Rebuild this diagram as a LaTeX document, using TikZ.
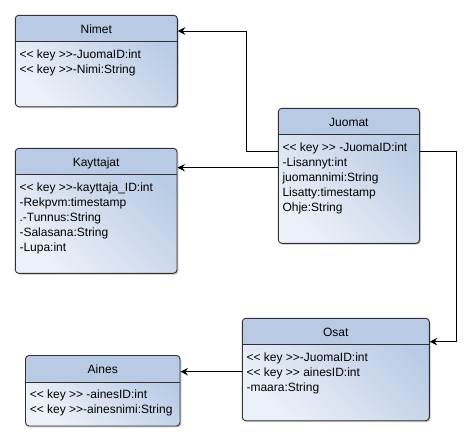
\documentclass[tikz,border=0pt]{standalone}
\usepackage{fontspec}
\setmainfont{Liberation Sans}[Ligatures=TeXOff]
\usetikzlibrary{arrows.meta,shadows,calc}
\definecolor{hdr}{RGB}{184,202,228}
\definecolor{lite}{RGB}{236,241,249}
\definecolor{edge}{RGB}{50,50,50}
\tikzset{
  umlbox/.style={draw=edge, line width=0.9pt, rounded corners=3.5pt, inner sep=0pt,
    top color=hdr, bottom color=lite, shading angle=-45,
    drop shadow={shadow xshift=1.3pt, shadow yshift=-1.3pt, opacity=0.35, fill=black!70},
    path picture={
      \fill[hdr] (path picture bounding box.north west) rectangle ([yshift=-26.5pt]path picture bounding box.north east);
      \draw[edge, line width=0.9pt] ([yshift=-26.5pt]path picture bounding box.north west) -- ([yshift=-26.5pt]path picture bounding box.north east);
    }},
  ttl/.style={anchor=base, font=\fontsize{12}{14}\selectfont, inner sep=0pt},
  att/.style={anchor=base west, font=\fontsize{12}{14}\selectfont, inner sep=0pt},
  arr/.style={draw=black, line width=0.9pt, -{Stealth[length=7.5pt,width=7.5pt,inset=2.5pt]}},
}
\begin{document}
\begin{tikzpicture}[x=1pt,y=-1pt]
\useasboundingbox (0,0) rectangle (471,442);
% boxes
\node[umlbox, minimum width=162pt, minimum height=91.4pt] (nimet) at (96.3,61) {};
\node[umlbox, minimum width=161.7pt, minimum height=125pt] (kayttajat) at (96.15,210.8) {};
\node[umlbox, minimum width=141.2pt, minimum height=135pt] (juomat) at (348.9,175.8) {};
\node[umlbox, minimum width=187pt, minimum height=102.4pt] (osat) at (335.8,369.5) {};
\node[umlbox, minimum width=154.5pt, minimum height=70.5pt] (aines) at (102.75,390.75) {};
% titles
\node[ttl] (nimetT) at ($(nimet.north)+(0,18.5)$) {Nimet};
\node[ttl] (kayttajatT) at ($(kayttajat.north)+(0,18.5)$) {Kayttajat};
\node[ttl] (juomatT) at ($(juomat.north)+(0,18.5)$) {Juomat};
\node[ttl] (osatT) at ($(osat.north)+(0,18.5)$) {Osat};
\node[ttl] (ainesT) at ($(aines.north)+(0,18.5)$) {Aines};
% attributes
\foreach \t [count=\i] in {<< key >>-JuomaID:int, << key >>-Nimi:String}
  \node[att] (nimet-\i) at ($(nimet.north west)+(4.5,{43.5+15*(\i-1)})$) {\t};
\foreach \t [count=\i] in {<< key >>-kayttaja\_ID:int, -Rekpvm:timestamp, .-Tunnus:String, -Salasana:String, -Lupa:int}
  \node[att] (kayttajat-\i) at ($(kayttajat.north west)+(4.5,{43.5+15*(\i-1)})$) {\t};
\foreach \t [count=\i] in {<< key >> -JuomaID:int, -Lisannyt:int, juomannimi:String, Lisatty:timestamp, Ohje:String}
  \node[att] (juomat-\i) at ($(juomat.north west)+(4.5,{43.5+15*(\i-1)})$) {\t};
\foreach \t [count=\i] in {<< key >>-JuomaID:int, << key >> ainesID:int, -maara:String}
  \node[att] (osat-\i) at ($(osat.north west)+(4.5,{43.5+15*(\i-1)})$) {\t};
\foreach \t [count=\i] in {<< key >> -ainesID:int, << key >>-ainesnimi:String}
  \node[att] (aines-\i) at ($(aines.north west)+(4.5,{43.5+15*(\i-1)})$) {\t};
% connector coordinates
\coordinate (bN) at (246.7,31);
\coordinate (rA) at (0,151);
\coordinate (rB) at (0,167.7);
\coordinate (bO) at (456.3,341.7);
\coordinate (rC) at (0,371.7);
% connectors
\draw[arr] (juomat.west |- rA) -| (bN) -- (nimet.east |- bN);
\draw[arr] (juomat.west |- rB) -- (kayttajat.east |- rB);
\draw[arr] (juomat.east |- rA) -| (bO) -- (osat.east |- bO);
\draw[arr] (osat.west |- rC) -- (aines.east |- rC);
\end{tikzpicture}
\end{document}
